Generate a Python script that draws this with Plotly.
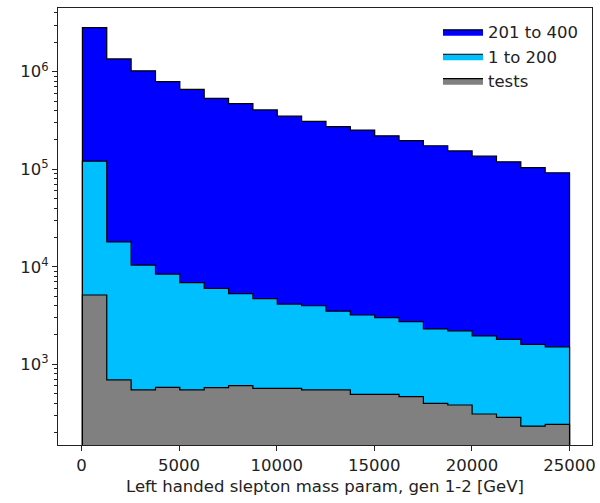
import plotly.graph_objects as go

# Bin edges: 20 equal bins from ~50 to 25000
x_min = 50.0
x_max = 25000.0
n_bins = 20

# Per-series counts per bin (stacked: tests at bottom, then 1 to 200, then 201 to 400)
tests = [5130, 690, 545, 580, 545, 575, 605, 565, 565, 545,
         545, 490, 490, 465, 397, 382, 309, 285, 232, 242]
low = [115870, 17310, 9855, 7820, 6315, 5425, 4695, 4135, 3575, 3435,
       2955, 2710, 2510, 2265, 1903, 1818, 1641, 1515, 1368, 1268]
high = [2709000, 1332000, 1009600, 781600, 653140, 527000, 464700, 400300, 345860, 306020,
        269500, 248800, 217000, 193270, 171700, 151800, 134050, 117200, 102400, 90490]

series_names = ["201 to 400", "1 to 200", "tests"]
colors = ["#0000FF", "#00BFFF", "#808080"]

x_ticks = [0, 5000, 10000, 15000, 20000, 25000]
y_ticks = [1e3, 1e4, 1e5, 1e6]
y_tick_text = ["10<sup>3</sup>", "10<sup>4</sup>", "10<sup>5</sup>", "10<sup>6</sup>"]

width = (x_max - x_min) / n_bins
edges = [x_min + i * width for i in range(n_bins + 1)]

cum_tests = tests
cum_low = [a + b for a, b in zip(tests, low)]
cum_high = [a + b for a, b in zip(cum_low, high)]


def step_polygon(vals, base=1.0):
    xs = [edges[0]]
    ys = [base]
    for i, v in enumerate(vals):
        xs += [edges[i], edges[i + 1]]
        ys += [v, v]
    xs += [edges[-1], edges[0]]
    ys += [base, base]
    return xs, ys


fig = go.Figure()
for name, col, vals in zip(series_names, colors, [cum_high, cum_low, cum_tests]):
    xs, ys = step_polygon(vals)
    fig.add_trace(go.Scatter(
        x=xs, y=ys, mode="lines", fill="toself", fillcolor=col,
        line=dict(color="black", width=1.2), name=name,
    ))

font = dict(family="DejaVu Sans", size=16.5, color="#222222")

minor_vals = []
for d in [100, 1000, 10000, 100000, 1000000]:
    for m in range(2, 10):
        minor_vals.append(m * d)

fig.update_layout(
    width=600, height=503,
    margin=dict(l=58, r=4, t=8, b=58),
    plot_bgcolor="white", paper_bgcolor="white",
    font=font,
    showlegend=True,
    legend=dict(x=0.985, y=0.985, xanchor="right", yanchor="top",
                bgcolor="rgba(0,0,0,0)", font=font,
                traceorder="normal", itemwidth=40, tracegroupgap=0),
    xaxis=dict(
        range=[-1200, 26150], tickvals=x_ticks, ticktext=[str(t) for t in x_ticks],
        ticks="outside", ticklen=5, tickcolor="#222222", tickwidth=1,
        showline=True, linecolor="#222222", linewidth=1, mirror=True,
        showgrid=False, zeroline=False,
        title=dict(text="Left handed slepton mass param, gen 1-2 [GeV]", font=font, standoff=6),
    ),
    yaxis=dict(
        type="log", range=[2.172, 6.653], tickvals=y_ticks, ticktext=y_tick_text,
        ticks="outside", ticklen=5, tickcolor="#222222", tickwidth=1,
        showline=True, linecolor="#222222", linewidth=1, mirror=True,
        showgrid=False, zeroline=False,
        minor=dict(tickmode="array", tickvals=minor_vals, ticks="outside",
                   ticklen=3, tickcolor="#222222", tickwidth=1, showgrid=False),
    ),
)

fig.write_html("out.html")
